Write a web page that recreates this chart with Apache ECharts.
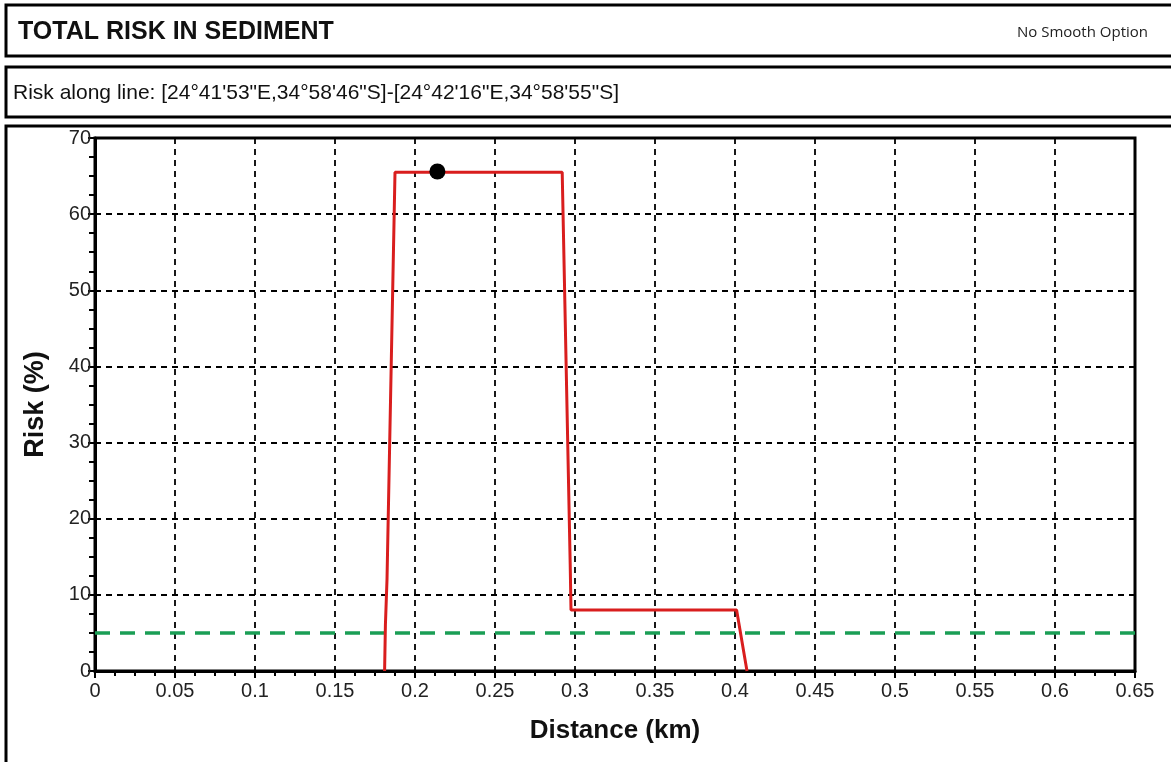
<!DOCTYPE html>
<html>
<head>
<meta charset="utf-8">
<script src="https://cdn.jsdelivr.net/npm/echarts@6/dist/echarts.min.js"></script>
<style>
  html, body { margin: 0; padding: 0; background: #fff; }
  #chart { width: 1171px; height: 762px; }
</style>
</head>
<body>
<div id="chart"></div>
<script>
// risk profile along the transect
const distKm = [0.181, 0.1815, 0.1825, 0.1875, 0.292, 0.297, 0.2975, 0.401, 0.4075];
const riskPct = [0, 6, 12, 65.5, 65.5, 14, 8, 8, 0];

// selected point on the profile
const markerPoint = [0.214, 65.6];

// threshold line (runs a little past the right frame, like the original)
const thresholdRisk = 5;
const thresholdRange = [0, 0.66];

const titleText = "TOTAL RISK IN SEDIMENT";
const optionText = "No Smooth Option";
const subtitleText = "Risk along line: [24°41'53\"E,34°58'46\"S]-[24°42'16\"E,34°58'55\"S]";

const chart = echarts.init(document.getElementById("chart"));

const fontArial = "'Liberation Sans', Arial, sans-serif";

const option = {
  animation: false,
  graphic: [
    // header boxes
    { type: "rect", shape: { x: 6, y: 5, width: 1200, height: 51 }, style: { fill: "#fff", stroke: "#000", lineWidth: 3 } },
    { type: "rect", shape: { x: 6, y: 67, width: 1200, height: 50 }, style: { fill: "#fff", stroke: "#000", lineWidth: 3 } },
    { type: "rect", shape: { x: 6, y: 126, width: 1200, height: 700 }, style: { fill: "none", stroke: "#000", lineWidth: 3 }, z: -1 },
    {
      type: "text", left: 18, top: 20,
      style: { text: titleText, font: "bold 25px " + fontArial, fill: "#111" }
    },
    {
      type: "text", right: 23, top: 25,
      style: { text: optionText, font: "15px 'Open Sans', sans-serif", fill: "#222", textAlign: "right" }
    },
    {
      type: "text", left: 13, top: 83,
      style: { text: subtitleText, font: "21px " + fontArial, fill: "#111" }
    }
  ],
  grid: {
    left: 95,
    right: 36,
    top: 138,
    bottom: 91,
    show: true,
    borderColor: "#000",
    borderWidth: 3,
    backgroundColor: "transparent"
  },
  xAxis: {
    type: "value",
    min: 0,
    max: 0.65,
    interval: 0.05,
    name: "Distance (km)",
    nameLocation: "middle",
    nameGap: 47,
    nameTextStyle: { fontFamily: fontArial, fontSize: 26, fontWeight: "bold", color: "#111" },
    axisLine: { show: true, onZero: false, lineStyle: { color: "#000", width: 3 } },
    axisTick: { show: true, inside: false, length: 7, lineStyle: { color: "#000", width: 2 } },
    minorTick: { show: true, splitNumber: 4, length: 5, lineStyle: { color: "#000", width: 2 } },
    axisLabel: {
      fontFamily: fontArial, fontSize: 20, color: "#222", margin: 10,
      formatter: (v) => String(+v.toFixed(2))
    },
    splitLine: { show: true, lineStyle: { color: "#000", width: 1.8, type: [6, 5] } }
  },
  yAxis: {
    type: "value",
    min: 0,
    max: 70,
    interval: 10,
    name: "Risk (%)",
    nameLocation: "middle",
    nameGap: 46,
    nameRotate: 90,
    nameTextStyle: { fontFamily: fontArial, fontSize: 27, fontWeight: "bold", color: "#111" },
    axisLine: { show: true, lineStyle: { color: "#000", width: 3 } },
    axisTick: { show: true, inside: false, length: 7, lineStyle: { color: "#000", width: 2 } },
    minorTick: { show: true, splitNumber: 4, length: 6, lineStyle: { color: "#000", width: 2 } },
    axisLabel: { fontFamily: fontArial, fontSize: 20, color: "#222", margin: 4 },
    splitLine: { show: true, lineStyle: { color: "#000", width: 1.8, type: [6, 5] } }
  },
  series: [
    {
      name: "threshold",
      type: "line",
      data: thresholdRange.map((x) => [x, thresholdRisk]),
      symbol: "none",
      clip: false,
      lineStyle: { color: "#1a9e55", width: 3.5, type: [15, 10] },
      z: 2
    },
    {
      name: "risk",
      type: "line",
      data: distKm.map((x, i) => [x, riskPct[i]]),
      symbol: "none",
      lineStyle: { color: "#d91e1e", width: 3 },
      z: 3
    },
    {
      name: "point",
      type: "scatter",
      data: [markerPoint],
      symbolSize: 16,
      itemStyle: { color: "#000", opacity: 1 },
      z: 4
    }
  ]
};

chart.setOption(option);
</script>
</body>
</html>
